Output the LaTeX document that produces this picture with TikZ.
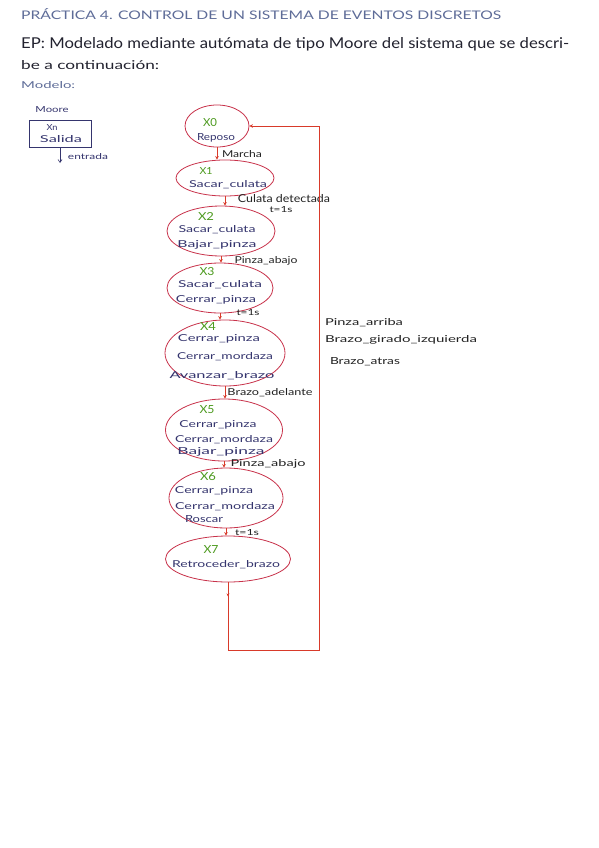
\documentclass[tikz,border=0pt]{standalone}
\usepackage{fontspec}
\setmainfont{Lato}
\usetikzlibrary{shapes.geometric,arrows.meta,decorations.markings}
\definecolor{stborder}{HTML}{C8324A}
\definecolor{stgreen}{HTML}{4C9A1E}
\definecolor{outnavy}{HTML}{35356E}
\definecolor{trink}{HTML}{222222}
\definecolor{conred}{HTML}{D83A2A}
\definecolor{headblue}{HTML}{5E6C98}
\definecolor{headdark}{HTML}{22222F}
% width, cap height, text
\newcommand{\fw}[3]{\resizebox{#1pt}{#2pt}{#3}}
\tikzset{
  stnode/.style={draw=stborder, line width=0.8pt, ellipse, inner sep=0pt},
  stlab/.style={text=stgreen, inner sep=0pt},
  outlab/.style={text=outnavy, inner sep=0pt},
  trlab/.style={text=trink, inner sep=0pt},
  conn/.style={draw=conred, line width=0.8pt, -{Stealth[length=3.5pt,width=3.5pt]}},
  hdr/.style={inner sep=0pt, anchor=base west},
  legbox/.style={draw=outnavy, line width=0.7pt, minimum width=62pt, minimum height=27pt, inner sep=0pt},
  legarr/.style={draw=outnavy, line width=0.6pt, -{Straight Barb[length=3pt,width=4pt]}}
}
\begin{document}
\begin{tikzpicture}[x=1pt,y=-1pt]
\useasboundingbox (0,0) rectangle (599,848);
\fill[white] (0,0) rectangle (599,848);

% header
\node[hdr, text=headblue] (h1) at (21,20) {\fw{480}{11}{PRÁCTICA 4. CONTROL DE UN SISTEMA DE EVENTOS DISCRETOS}};
\node[hdr, text=headdark] (h2) at (21,49) {\fw{548}{11}{EP: Modelado mediante autómata de tipo Moore del sistema que se descri-}};
\node[hdr, text=headdark] (h3) at (21,70) {\fw{138}{9}{be a continuación:}};
\node[hdr, text=headblue] (h4) at (21,89) {\fw{54}{7}{Modelo:}};

% legend
\node[outlab] (lmoore) at (52,110) {\fw{33}{6}{Moore}};
\node[legbox] (leg) at (60,133.5) {};
\node[outlab] (lxn) at (52,128) {\fw{11}{6}{Xn}};
\node[outlab] (lsal) at (61,139) {\fw{42}{7}{Salida}};
\coordinate (legend) at (60,163);
\draw[legarr] (leg.south) -- (legend);
\node[outlab] (lent) at (88,157) {\fw{40}{6}{entrada}};

% states
\node[stnode, minimum width=64pt, minimum height=42pt] (s0) at (217,126) {};
\node[stlab] at (210,123) {\fw{14}{8}{X0}};
\node[outlab] at (216,138) {\fw{38}{7}{Reposo}};

\node[stnode, minimum width=98pt, minimum height=36pt] (s1) at (225,178) {};
\node[stlab] at (206,171) {\fw{13}{7}{X1}};
\node[outlab] at (228,185) {\fw{78}{7}{Sacar\_culata}};

\node[stnode, minimum width=108pt, minimum height=50pt] (s2) at (221,231) {};
\node[stlab] at (206,216) {\fw{16}{8}{X2}};
\node[outlab] at (217,230) {\fw{77}{7}{Sacar\_culata}};
\node[outlab] at (217,245) {\fw{79}{7}{Bajar\_pinza}};

\node[stnode, minimum width=106pt, minimum height=50pt] (s3) at (220,288) {};
\node[stlab] at (207,272) {\fw{15}{8}{X3}};
\node[outlab] at (220,285) {\fw{84}{7}{Sacar\_culata}};
\node[outlab] at (216,300) {\fw{80}{7}{Cerrar\_pinza}};

\node[stnode, minimum width=120pt, minimum height=66pt] (s4) at (225,353) {};
\node[stlab] at (208,326) {\fw{16}{8}{X4}};
\node[outlab] at (219,339) {\fw{82}{7}{Cerrar\_pinza}};
\node[outlab] at (225,357) {\fw{96}{7}{Cerrar\_mordaza}};
\node[outlab] at (222,376) {\fw{105}{7}{Avanzar\_brazo}};

\node[stnode, minimum width=117pt, minimum height=62pt] (s5) at (224,430) {};
\node[stlab] at (207,410) {\fw{15}{8}{X5}};
\node[outlab] at (218,425) {\fw{77}{7}{Cerrar\_pinza}};
\node[outlab] at (224,440) {\fw{98}{7}{Cerrar\_mordaza}};
\node[outlab] at (221,452) {\fw{87}{7}{Bajar\_pinza}};

\node[stnode, minimum width=114pt, minimum height=60pt] (s6) at (226,498) {};
\node[stlab] at (208,477) {\fw{16}{8}{X6}};
\node[outlab] at (214,491) {\fw{78}{7}{Cerrar\_pinza}};
\node[outlab] at (225,507) {\fw{100}{7}{Cerrar\_mordaza}};
\node[outlab] at (204,519) {\fw{38}{7}{Roscar}};

\node[stnode, minimum width=125pt, minimum height=46pt] (s7) at (228,559) {};
\node[stlab] at (211,549) {\fw{15}{8}{X7}};
\node[outlab] at (226,565) {\fw{108}{7}{Retroceder\_brazo}};

% transitions
\draw[conn] (s0.south) -- (s0.south |- s1.north);
\node[trlab] (t0) at (242,154) {\fw{40}{7}{Marcha}};
\draw[conn] (s1.south) -- (s1.south |- s2.north);
\node[trlab] (t1a) at (284,199) {\fw{92}{8}{Culata detectada}};
\node[trlab] (t1b) at (281,210) {\fw{23}{6}{t=1s}};
\draw[conn] (s2.south) -- (s2.south |- s3.north);
\node[trlab] (t2) at (266,261) {\fw{63}{7}{Pinza\_abajo}};
\draw[conn] (s3.south) -- (s3.south |- s4.north);
\node[trlab] (t3) at (248,313) {\fw{23}{6}{t=1s}};
\draw[conn] (s4.south) -- (s4.south |- s5.north);
\node[trlab] (t4) at (270,393) {\fw{85}{7}{Brazo\_adelante}};
\draw[conn] (s5.south) -- (s5.south |- s6.north);
\node[trlab] (t5) at (268,464) {\fw{75}{7}{Pinza\_abajo}};
\draw[conn] (s6.south) -- (s6.south |- s7.north);
\node[trlab] (t6) at (247,533) {\fw{24}{6}{t=1s}};

% return loop
\coordinate (c1) at (228,650);
\coordinate (c2) at (319,650);
\coordinate (c3) at (319,126);
\draw[conn, postaction={decorate}, decoration={markings, mark=at position 14pt with {\arrow{Stealth[length=3pt,width=3pt]}}}]
  (s7.south) -- (c1) -- (c2) -- (c3) -- (s0.east);
\node[trlab] (r1) at (364,323) {\fw{78}{7}{Pinza\_arriba}};
\node[trlab] (r2) at (401,340) {\fw{152}{7}{Brazo\_girado\_izquierda}};
\node[trlab] (r3) at (365,362) {\fw{70}{7}{Brazo\_atras}};
\end{tikzpicture}
\end{document}
